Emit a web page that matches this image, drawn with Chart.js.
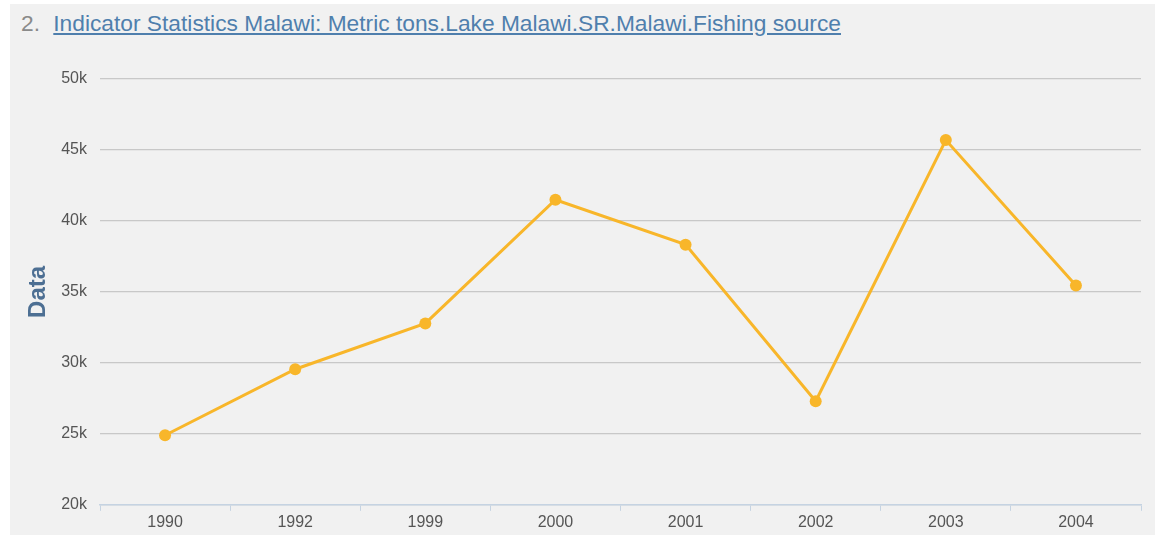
<!DOCTYPE html>
<html lang="en">
<head>
    <meta charset="UTF-8">
    <title>Indicator Statistics Malawi</title>
    <script src="https://cdn.jsdelivr.net/npm/chart.js"></script>
    <style>
        body {
            margin: 0;
            background: #ffffff;
            font-family: "Liberation Sans", Arial, sans-serif;
        }
        #panel {
            position: absolute;
            left: 10px;
            top: 4px;
            width: 1145px;
            height: 531px;
            background: #f1f1f1;
        }
        #title {
            position: absolute;
            left: 11px;
            top: 6px;
            font-size: 22.75px;
            color: #8a8a8a;
            white-space: nowrap;
        }
        #title a {
            color: #4f7fad;
            text-decoration: underline;
            margin-left: 7px;
        }
        #chartBox {
            position: absolute;
            left: 0;
            top: 40px;
            width: 1145px;
            height: 490px;
        }
    </style>
</head>
<body>
    <div id="panel">
        <div id="title">2. <a href="#">Indicator Statistics Malawi: Metric tons.Lake Malawi.SR.Malawi.Fishing source</a></div>
        <div id="chartBox">
            <canvas id="fishChart"></canvas>
        </div>
    </div>
    <script>
        const years = ['1990', '1992', '1999', '2000', '2001', '2002', '2003', '2004'];
        const catch_tons = [24900, 29550, 32780, 41490, 38330, 27300, 45700, 35450];
        const yTicks = [20000, 25000, 30000, 35000, 40000, 45000, 50000];

        const ctx = document.getElementById('fishChart').getContext('2d');
        new Chart(ctx, {
            type: 'line',
            data: {
                labels: years,
                datasets: [{
                    label: 'Data',
                    data: catch_tons,
                    borderColor: '#f8b62a',
                    backgroundColor: '#f8b62a',
                    borderWidth: 3,
                    pointRadius: 6,
                    pointBorderWidth: 0,
                    pointHoverRadius: 6,
                    tension: 0
                }]
            },
            options: {
                responsive: true,
                maintainAspectRatio: false,
                animation: false,
                layout: {
                    padding: { top: 35, right: 14, left: 14, bottom: 0 }
                },
                plugins: {
                    legend: { display: false },
                    tooltip: { enabled: false }
                },
                scales: {
                    x: {
                        offset: true,
                        grid: {
                            display: true,
                            offset: true,
                            drawOnChartArea: false,
                            drawTicks: true,
                            tickLength: 6,
                            color: '#c5d3e2'
                        },
                        border: { color: '#c5d3e2', width: 1.5 },
                        ticks: {
                            color: '#555555',
                            font: { family: 'Liberation Sans', size: 16 },
                            padding: 2
                        }
                    },
                    y: {
                        min: 20000,
                        max: 50000,
                        afterBuildTicks: function(axis) {
                            axis.ticks = yTicks.map(v => ({ value: v }));
                        },
                        afterFit: function(axis) {
                            axis.width = 76;
                        },
                        grid: {
                            color: '#c8c8c8',
                            lineWidth: 1.2,
                            drawTicks: false
                        },
                        border: { display: false },
                        ticks: {
                            color: '#555555',
                            font: { family: 'Liberation Sans', size: 16 },
                            padding: 13,
                            callback: function(value) {
                                return (value / 1000) + 'k';
                            }
                        },
                        title: {
                            display: true,
                            text: 'Data',
                            color: '#4d6f93',
                            font: { family: 'Liberation Sans', size: 24, weight: 'bold' },
                            padding: { top: 0, bottom: 0 }
                        }
                    }
                }
            }
        });
    </script>
</body>
</html>
